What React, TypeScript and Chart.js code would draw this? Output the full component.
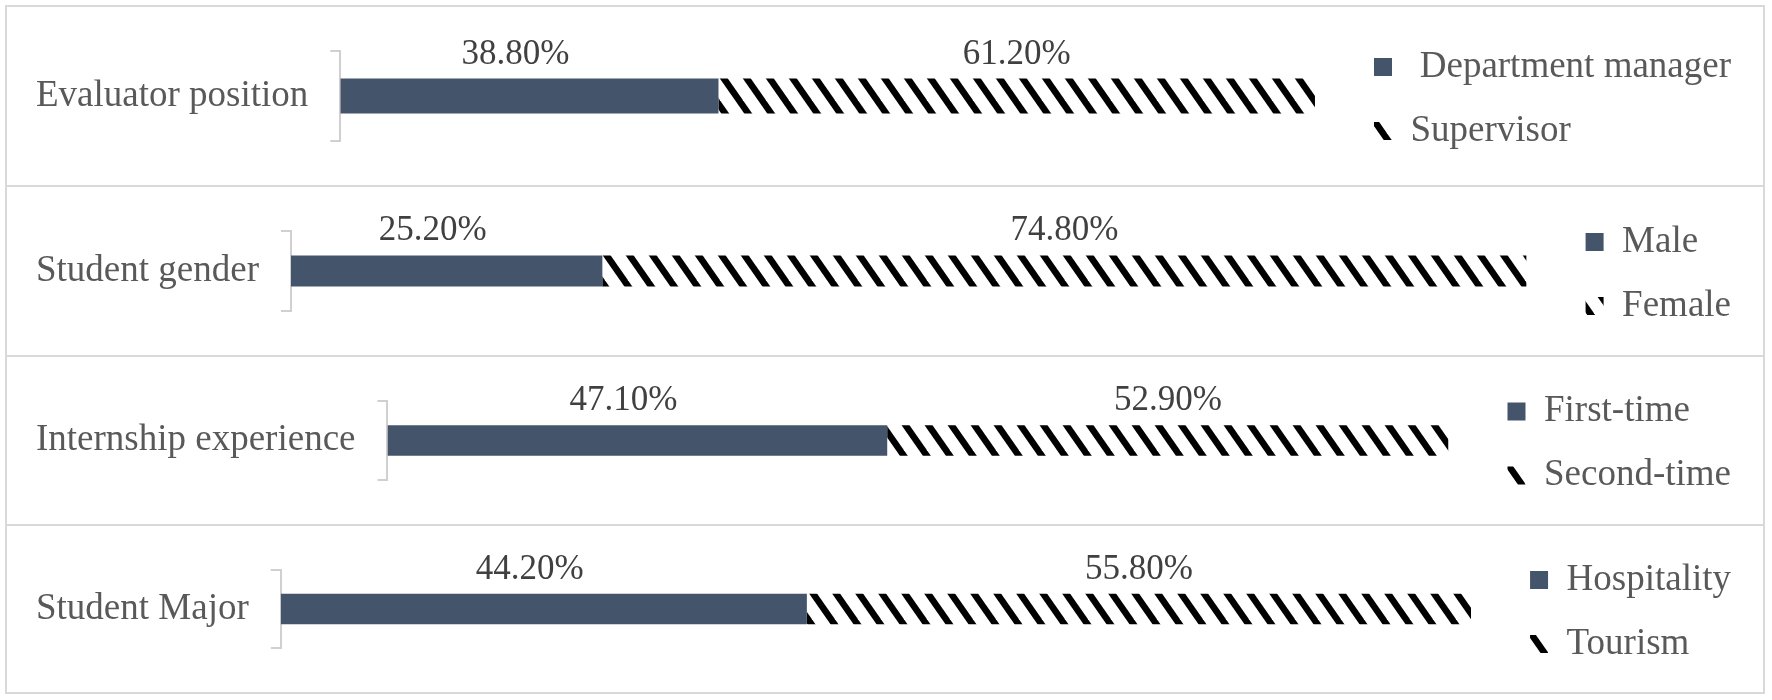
import React, { useEffect, useRef } from 'react';
import { Chart, registerables } from 'chart.js';

Chart.register(...registerables);

// ---- data ----
const categories = ['Evaluator position', 'Student gender', 'Internship experience', 'Student Major'];
const firstSeriesNames = [' Department manager', 'Male', 'First-time', 'Hospitality'];
const secondSeriesNames = ['Supervisor', 'Female', 'Second-time', 'Tourism'];
const firstValues = [38.8, 25.2, 47.1, 44.2];
const secondValues = [61.2, 74.8, 52.9, 55.8];

// ---- style ----
const FONT = '"Liberation Serif", "Times New Roman", serif';
const DARK = '#44546a';
const TEXT = '#595959';
const LABEL_TEXT = '#404040';
const LINE = '#d9d9d9';
const BRACKET = '#d0d0d0';
const panelInnerHeights = [178, 168, 167, 166];
const canvasWidth = 1756;
const labelShift = [-14, 0];
const AXIS_FONT_SIZE = 37;
const TICK_LEN = 10;
const TICK_PAD = 22;

function makeStripePattern(): CanvasPattern | string {
  const w = 23;
  const h = 33;
  const c = document.createElement('canvas');
  c.width = w;
  c.height = h;
  const ctx = c.getContext('2d');
  if (!ctx) return '#000';
  ctx.fillStyle = '#ffffff';
  ctx.fillRect(0, 0, w, h);
  ctx.strokeStyle = '#000000';
  ctx.lineWidth = 6.5;
  for (let k = -1; k <= 1; k++) {
    ctx.beginPath();
    ctx.moveTo(k * w - w, -h);
    ctx.lineTo(k * w + 2 * w, 2 * h);
    ctx.stroke();
  }
  return ctx.createPattern(c, 'repeat') || '#000';
}

const valueLabels = {
  id: 'valueLabels',
  afterDatasetsDraw(chart: any) {
    const ctx = chart.ctx;
    ctx.save();
    ctx.font = `35px ${FONT}`;
    ctx.fillStyle = LABEL_TEXT;
    ctx.textAlign = 'center';
    ctx.textBaseline = 'alphabetic';
    chart.data.datasets.forEach((ds: any, di: number) => {
      const meta = chart.getDatasetMeta(di);
      meta.data.forEach((bar: any, i: number) => {
        const v = ds.data[i] as number;
        const p = bar.getProps(['x', 'base', 'y', 'height'], true);
        const cx = (p.x + p.base) / 2 + (labelShift[di] || 0);
        ctx.fillText(v.toFixed(2) + '%', cx, p.y - p.height / 2 - 15);
      });
    });
    ctx.restore();
  },
};

function Panel({ index }: { index: number }) {
  const ref = useRef<HTMLCanvasElement>(null);
  useEffect(() => {
    if (!ref.current) return;
    const pattern = makeStripePattern();
    const hidden = {
      display: true,
      grid: { display: false },
      ticks: { display: false },
      border: { display: false },
    };
    const chart = new Chart(ref.current, {
      type: 'bar',
      data: {
        labels: [categories[index]],
        datasets: [
          {
            label: firstSeriesNames[index],
            data: [firstValues[index]],
            backgroundColor: DARK,
            borderWidth: 0,
            barPercentage: 0.39,
            categoryPercentage: 1,
          },
          {
            label: secondSeriesNames[index],
            data: [secondValues[index]],
            backgroundColor: pattern as any,
            borderWidth: 0,
            barPercentage: 0.39,
            categoryPercentage: 1,
          },
        ],
      },
      options: {
        indexAxis: 'y',
        responsive: false,
        animation: false,
        devicePixelRatio: 1,
        layout: { padding: { left: 29, right: 22, top: 6, bottom: 0 } },
        plugins: {
          legend: {
            position: 'right',
            align: 'center',
            maxWidth: 800,
            labels: {
              font: { family: FONT, size: AXIS_FONT_SIZE },
              color: TEXT,
              boxWidth: 18,
              boxHeight: 18,
              padding: 27,
            },
          },
          tooltip: { enabled: false },
        },
        scales: {
          x: {
            ...hidden,
            stacked: true,
            min: 0,
            max: 100,
            afterFit: (s: any) => {
              s.height = 40;
            },
          },
          xTop: {
            ...hidden,
            type: 'linear',
            position: 'top',
            afterFit: (s: any) => {
              s.height = 34;
            },
          },
          y: {
            stacked: true,
            grid: {
              display: true,
              drawOnChartArea: false,
              drawTicks: true,
              tickLength: TICK_LEN,
              color: BRACKET,
              lineWidth: 2,
              offset: true,
            },
            border: { display: true, color: BRACKET, width: 2 },
            ticks: { font: { family: FONT, size: AXIS_FONT_SIZE }, color: TEXT, padding: TICK_PAD },
            afterFit: (s: any) => {
              const ctx = s.ctx;
              ctx.save();
              ctx.font = `${AXIS_FONT_SIZE}px ${FONT}`;
              let w = 0;
              s.ticks.forEach((t: any) => {
                w = Math.max(w, ctx.measureText(String(t.label)).width);
              });
              ctx.restore();
              s.width = w + TICK_LEN + TICK_PAD;
            },
          },
          yRight: {
            ...hidden,
            type: 'linear',
            position: 'right',
            afterFit: (s: any) => {
              s.width = 32;
            },
          },
        },
      } as any,
      plugins: [valueLabels as any],
    });
    return () => chart.destroy();
  }, [index]);
  return (
    <canvas
      ref={ref}
      width={canvasWidth}
      height={panelInnerHeights[index]}
      style={{ display: 'block' }}
    />
  );
}

export default function App() {
  return (
    <div style={{ position: 'absolute', left: 5, top: 5, width: canvasWidth + 4, background: '#fff' }}>
      {categories.map((_, i) => (
        <div
          key={i}
          style={{
            borderTop: `2px solid ${LINE}`,
            borderLeft: `2px solid ${LINE}`,
            borderRight: `2px solid ${LINE}`,
            borderBottom: i === categories.length - 1 ? `2px solid ${LINE}` : 'none',
            lineHeight: 0,
          }}
        >
          <Panel index={i} />
        </div>
      ))}
    </div>
  );
}
